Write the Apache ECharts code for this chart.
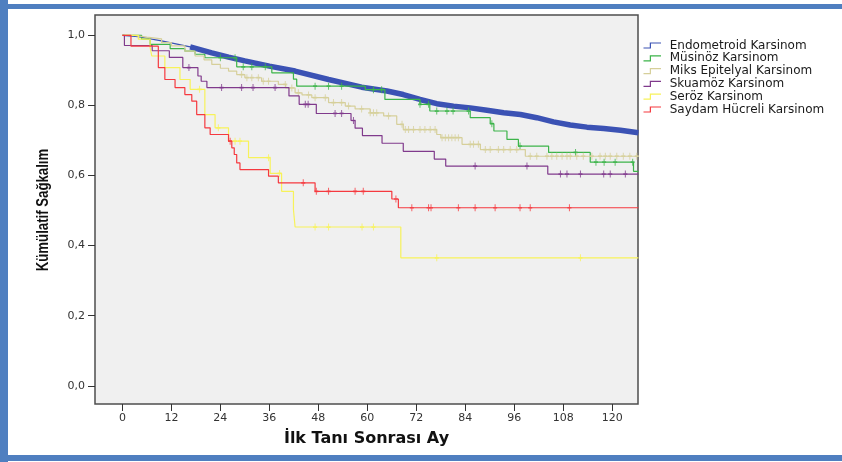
<!DOCTYPE html>
<html>
<head>
<meta charset="utf-8">
<script src="https://cdn.jsdelivr.net/npm/echarts@6/dist/echarts.min.js"></script>
<style>
  html, body { margin: 0; padding: 0; background: #fff; }
  #chart { width: 842px; height: 462px; }
</style>
</head>
<body>
<div id="chart"></div>
<script>
// groups, in legend order
const groupNames = ['Endometroid Karsinom', 'Müsinöz Karsinom', 'Miks Epitelyal Karsinom',
  'Skuamöz Karsinom', 'Seröz Karsinom', 'Saydam Hücreli Karsinom'];
const groupColors = ['#3b52b4', '#3cb44a', '#d6cf9a', '#803a8c', '#f7f25a', '#f5393f'];

// [month, cumulative survival]
const endometroidCurve = [[0,1],[3.9,0.996],[9.6,0.984],[13.7,0.974],[16.6,0.967],[21.9,0.95],
  [26,0.938],[30,0.927],[36,0.912],[42.3,0.898],[50.5,0.874],[58.6,0.852],[64.8,0.841],
  [68.8,0.831],[72.9,0.817],[77,0.805],[81.1,0.798],[85.2,0.793],[89.3,0.786],[93.4,0.779],
  [97.5,0.774],[101.5,0.765],[105.6,0.753],[109.7,0.744],[113.8,0.738],[117.9,0.734],
  [122,0.729],[126.4,0.722]];
const musinozSteps = [[0,1],[4.7,0.989],[6.8,0.974],[11.7,0.962],[15.3,0.955],[17.8,0.946],
  [20.2,0.936],[28,0.91],[36.6,0.893],[41.9,0.875],[42.7,0.855],[59.5,0.845],[64.3,0.817],
  [72.9,0.803],[75.3,0.784],[85.2,0.765],[90.1,0.748],[91,0.727],[94.2,0.703],[97,0.684],
  [104.4,0.666],[114.6,0.638],[125.2,0.612],[126.4,0.612]];
const miksSteps = [[0,1],[3,0.995],[6,0.99],[9.6,0.979],[12,0.97],[15.3,0.955],[17.8,0.941],
  [20,0.93],[21.9,0.917],[24,0.906],[26,0.898],[28,0.888],[30,0.879],[34.1,0.869],[38.2,0.86],
  [40,0.85],[42.3,0.836],[44,0.83],[46.4,0.822],[50.5,0.808],[54.6,0.798],[57,0.79],
  [60.7,0.779],[64,0.77],[67.2,0.746],[68.8,0.731],[77,0.717],[78,0.708],[83.2,0.689],
  [87.7,0.674],[98.7,0.655],[126.4,0.655]];
const skuamozSteps = [[0,1],[0.5,0.971],[7.3,0.956],[11.5,0.937],[14.8,0.908],[18.5,0.884],
  [19.3,0.869],[20.7,0.851],[40.8,0.827],[43.3,0.803],[47.5,0.777],[56,0.757],[57,0.735],
  [58.8,0.714],[63.6,0.692],[68.8,0.669],[76.4,0.647],[79.2,0.627],[104.2,0.604],[126.4,0.604]];
const serozSteps = [[0,1],[3.9,0.989],[6.8,0.965],[7.2,0.941],[10.4,0.908],[14.1,0.874],
  [16.6,0.846],[20.2,0.774],[22.7,0.736],[26,0.698],[30.9,0.651],[36.2,0.606],[39,0.555],
  [41.9,0.503],[42.3,0.453],[68.2,0.365],[126.4,0.365]];
const saydamSteps = [[0,1],[2.1,0.969],[8.8,0.908],[10.4,0.874],[12.9,0.851],[15.3,0.831],
  [17,0.812],[18.2,0.774],[20.2,0.736],[21.5,0.717],[26,0.698],[26.8,0.679],[27.4,0.66],
  [28,0.636],[28.8,0.617],[35.8,0.598],[38.2,0.579],[47.2,0.555],[66,0.533],[67.6,0.508],
  [126.4,0.508]];

// censored cases (months)
const musinozCensored = [24, 27.6, 29.6, 31.7, 35, 47.2, 50.5, 53.7, 61.5, 63.5, 72.9, 75, 77,
  79.5, 81, 84.8, 90.5, 97.4, 111, 116, 118, 120.7, 125];
const miksCensored = [29.2, 30.5, 31.7, 33.3, 34.5, 35.8, 39.9, 41.5, 43.1, 45.6, 47.2, 49.7,
  51.7, 53.7, 55.4, 58.6, 60.7, 61.5, 62.3, 65.2, 68.5, 69.3, 70.1, 71.3, 72.9, 74.1, 75.4,
  76.6, 78.3, 79.1, 79.9, 80.7, 81.5, 82.3, 85.2, 86, 87.2, 88.9, 90.1, 92.1, 93.4, 95, 96.6,
  99.9, 101.5, 104, 105.2, 106.4, 107.7, 108.9, 109.7, 111.3, 112.9, 115, 117, 118.3, 119.5,
  121.1, 122.7, 124.3, 126];
const skuamozCensored = [16.3, 24.3, 29.2, 32, 37.4, 44.8, 45.5, 52.1, 53.7, 56.6, 86.4, 99.1,
  107.3, 108.9, 112.2, 117.9, 119.5, 123.2];
const serozCensored = [18.9, 23.5, 27.6, 28.8, 35.8, 38.5, 47.2, 50.5, 58.7, 61.5, 77, 112.2];
const saydamCensored = [26.4, 44.3, 47.5, 50.5, 57, 59, 67, 70.9, 75, 75.6, 82.3, 86.4, 91.3,
  97.4, 99.9, 109.5];

// endometroid censor marks are so dense they form a band from this month on
const endometroidBandStart = 16.6;

const xTicks = [0, 12, 24, 36, 48, 60, 72, 84, 96, 108, 120];
const yTicks = [0, 0.2, 0.4, 0.6, 0.8, 1.0];

function survivalAt(steps, t) {
  let s = steps[0][1];
  for (const p of steps) {
    if (p[0] <= t) s = p[1];
    else break;
  }
  return s;
}

const stepGroups = [
  [musinozSteps, musinozCensored],
  [miksSteps, miksCensored],
  [skuamozSteps, skuamozCensored],
  [serozSteps, serozCensored],
  [saydamSteps, saydamCensored]
];

const censorSymbol = 'path://M2,0L2,6M0,3L4,3';

const series = [];
series.push({
  name: groupNames[0], type: 'line', data: endometroidCurve, showSymbol: false,
  lineStyle: { color: groupColors[0], width: 1.2 }, itemStyle: { color: groupColors[0] },
  z: 2, silent: true
});
series.push({
  name: 'band', type: 'line', showSymbol: false,
  data: endometroidCurve.filter(p => p[0] >= endometroidBandStart),
  lineStyle: { color: groupColors[0], width: 5.5 }, z: 2, silent: true
});
stepGroups.forEach((g, i) => {
  const c = groupColors[i + 1];
  series.push({
    name: groupNames[i + 1], type: 'line', step: 'end', data: g[0], showSymbol: false,
    lineStyle: { color: c, width: 1.2 }, itemStyle: { color: c }, z: 3 + i, silent: true
  });
  series.push({
    name: 'cens' + i, type: 'scatter', symbol: censorSymbol, symbolSize: [4, 7],
    data: g[1].map(t => [t, survivalAt(g[0], t)]),
    itemStyle: { color: c, borderColor: c, borderWidth: 1.3 }, z: 3 + i, silent: true
  });
});

const chart = echarts.init(document.getElementById('chart'), null, { renderer: 'canvas' });
chart.setOption({
  animation: false,
  backgroundColor: '#fff',
  graphic: [
    { type: 'rect', shape: { x: 0, y: 0, width: 8, height: 462 }, style: { fill: '#4f7fc0' } },
    { type: 'rect', shape: { x: 0, y: 4, width: 842, height: 5 }, style: { fill: '#4f7fc0' } },
    { type: 'rect', shape: { x: 0, y: 455, width: 842, height: 6 }, style: { fill: '#4f7fc0' } },
    {
      type: 'text', x: 43, y: 210, rotation: Math.PI / 2, scaleX: 0.8,
      style: {
        text: 'Kümülatif Sağkalım', fontFamily: 'Liberation Sans', fontWeight: 'bold',
        fontSize: 16.5, fill: '#111', align: 'center', verticalAlign: 'middle'
      }
    }
  ],
  grid: {
    left: 95, top: 15, width: 543, height: 389,
    show: true, backgroundColor: '#f0f0f0', borderColor: '#4d4d4d', borderWidth: 1.5,
    containLabel: false, outerBoundsMode: 'none'
  },
  legend: {
    orient: 'vertical', left: 641, top: 39.5, padding: 0, itemGap: 0.8, itemWidth: 25, itemHeight: 5,
    data: groupNames.map((n, i) => ({
      name: n, icon: 'path://M0,8L11,8L11,0L28,0',
      itemStyle: { color: 'none', borderColor: groupColors[i], borderWidth: 1.2 }
    })),
    textStyle: { fontFamily: 'DejaVu Sans', fontSize: 12, color: '#1a1a1a', lineHeight: 11 },
    selectedMode: false
  },
  xAxis: {
    type: 'value', min: -6.71, max: 126.3,
    axisLine: { show: false, onZero: false },
    axisTick: { show: true, customValues: xTicks, length: 7, lineStyle: { color: '#333' } },
    axisLabel: { customValues: xTicks, fontFamily: 'DejaVu Sans', fontSize: 11, color: '#333', margin: 9 },
    splitLine: { show: false },
    name: 'İlk Tanı Sonrası Ay', nameLocation: 'middle', nameGap: 27,
    nameTextStyle: { fontFamily: 'DejaVu Sans', fontWeight: 'bold', fontSize: 16, color: '#111' }
  },
  yAxis: {
    type: 'value', min: -0.052, max: 1.058,
    axisLine: { show: false, onZero: false },
    axisTick: { show: true, customValues: yTicks, length: 7, lineStyle: { color: '#333' } },
    axisLabel: {
      customValues: yTicks, fontFamily: 'DejaVu Sans', fontSize: 11, color: '#333', margin: 10,
      formatter: v => v.toFixed(1).replace('.', ',')
    },
    splitLine: { show: false }
  },
  series: series
});
</script>
</body>
</html>
